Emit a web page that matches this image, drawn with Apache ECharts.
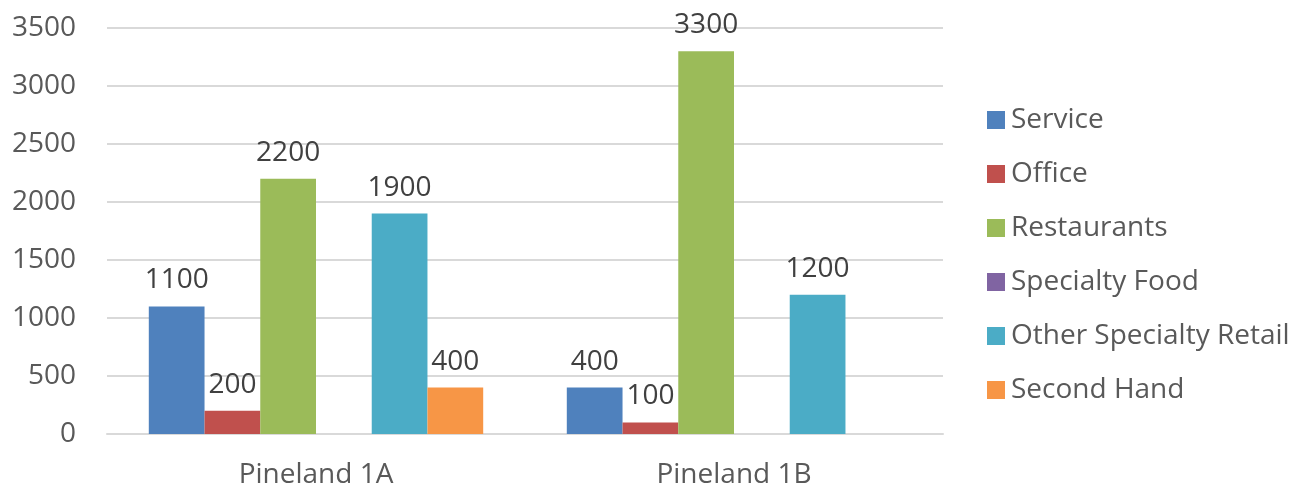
<!DOCTYPE html>
<html>
<head>
<meta charset="utf-8">
<script src="https://cdn.jsdelivr.net/npm/echarts@6/dist/echarts.min.js"></script>
<style>
  html, body { margin: 0; padding: 0; background: #fff; }
  #main { width: 1296px; height: 489px; }
</style>
</head>
<body>
<div id="main"></div>
<script>
var categories = ['Pineland 1A', 'Pineland 1B'];
var seriesNames = ['Service', 'Office', 'Restaurants', 'Specialty Food', 'Other Specialty Retail', 'Second Hand'];
var service = [1100, 400];
var office = [200, 100];
var restaurants = [2200, 3300];
var specialtyFood = [null, null];
var otherRetail = [1900, 1200];
var secondHand = [400, null];
var colors = ['#4F81BD', '#C0504D', '#9BBB59', '#8064A2', '#4BACC6', '#F79646'];

var font = '"Open Sans", sans-serif';
var values = [service, office, restaurants, specialtyFood, otherRetail, secondHand];

var series = [];
for (var i = 0; i < seriesNames.length; i++) {
    series.push({
        name: seriesNames[i],
        type: 'bar',
        data: values[i],
        barGap: '0%',
        barCategoryGap: '20%',
        itemStyle: { color: colors[i] },
        label: {
            show: true,
            position: 'top',
            distance: 12,
            color: '#404040',
            fontSize: 28,
            fontFamily: font
        }
    });
}

var myChart = echarts.init(document.getElementById('main'));
myChart.setOption({
    animation: false,
    color: colors,
    grid: { left: 107, right: 353, top: 28, bottom: 55, containLabel: false },
    legend: {
        orient: 'vertical',
        left: 982,
        top: 101,
        itemWidth: 18,
        itemHeight: 18,
        itemGap: 26,
        icon: 'rect',
        data: seriesNames,
        textStyle: { color: '#595959', fontSize: 28, fontFamily: font, padding: [0, 0, 0, 1] }
    },
    xAxis: {
        type: 'category',
        data: categories,
        axisLine: { lineStyle: { color: '#D9D9D9', width: 2 } },
        axisTick: { show: false },
        axisLabel: { color: '#595959', fontSize: 28, fontFamily: font, margin: 27 }
    },
    yAxis: {
        type: 'value',
        min: 0,
        max: 3500,
        interval: 500,
        axisLine: { show: false },
        axisTick: { show: false },
        splitLine: { lineStyle: { color: '#D9D9D9', width: 2 } },
        axisLabel: {
            color: '#595959', fontSize: 28, fontFamily: font, margin: 31,
            formatter: function (v) { return String(v); }
        }
    },
    series: series
});
</script>
</body>
</html>
